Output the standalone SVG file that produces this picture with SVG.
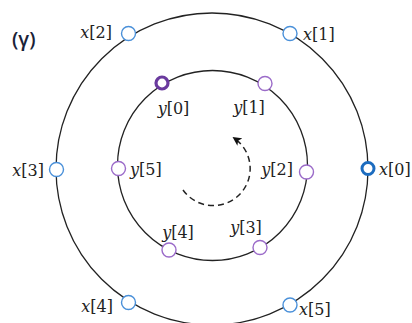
<svg xmlns="http://www.w3.org/2000/svg" width="412" height="323" viewBox="0 0 412 323">
<style>
.ring{fill:none;stroke:#222;stroke-width:1.3}
.xn{fill:#fff;stroke:#4a90d9;stroke-width:1.4}
.xs{fill:#fff;stroke:#1c6cbf;stroke-width:3}
.yn{fill:#fff;stroke:#9b6bc9;stroke-width:1.4}
.ys{fill:#fff;stroke:#6a3a9e;stroke-width:3.2}
.lb{font-family:"DejaVu Serif",serif;font-size:16px;fill:#222}
.it{font-style:italic}
.title{font-family:"Open Sans","Liberation Sans",sans-serif;font-size:20px;font-weight:600;fill:#1a2238}
.dash{fill:none;stroke:#222;stroke-width:1.5;stroke-dasharray:6 4}
</style>
<defs>
<marker id="ah" viewBox="0 0 10 10" refX="8" refY="5" markerWidth="9" markerHeight="9" markerUnits="userSpaceOnUse" orient="auto">
<path d="M0,0 L10,5 L0,10 L2.5,5 Z" fill="#111"/>
</marker>
</defs>
<text class="title" x="12" y="46">(γ)</text>
<g id="connectors">
<circle class="ring" cx="212" cy="169" r="156"/>
<circle class="ring" cx="212.5" cy="165.5" r="95"/>
<path class="dash" d="M183,190 A37,37 0 1 0 234,138" marker-end="url(#ah)"/>
</g>
<g id="x0"><circle class="xs" cx="368" cy="168.5" r="6"/><text class="lb" x="379" y="175"><tspan class="it">x</tspan>[0]</text></g>
<g id="x1"><circle class="xn" cx="290" cy="33.5" r="7"/><text class="lb" x="303" y="40"><tspan class="it">x</tspan>[1]</text></g>
<g id="x2"><circle class="xn" cx="128.5" cy="33.5" r="7"/><text class="lb" x="112" y="38" text-anchor="end"><tspan class="it">x</tspan>[2]</text></g>
<g id="x3"><circle class="xn" cx="56.5" cy="169.5" r="7"/><text class="lb" x="44" y="176" text-anchor="end"><tspan class="it">x</tspan>[3]</text></g>
<g id="x4"><circle class="xn" cx="128.5" cy="302.5" r="7"/><text class="lb" x="113" y="312" text-anchor="end"><tspan class="it">x</tspan>[4]</text></g>
<g id="x5"><circle class="xn" cx="290" cy="305" r="7"/><text class="lb" x="299" y="315"><tspan class="it">x</tspan>[5]</text></g>
<g id="y0"><circle class="ys" cx="162" cy="83" r="6"/><text class="lb" x="173.5" y="113.5" text-anchor="middle"><tspan class="it">y</tspan>[0]</text></g>
<g id="y1"><circle class="yn" cx="265" cy="83.5" r="7"/><text class="lb" x="249" y="113" text-anchor="middle"><tspan class="it">y</tspan>[1]</text></g>
<g id="y2"><circle class="yn" cx="306.5" cy="172" r="7"/><text class="lb" x="293" y="175" text-anchor="end"><tspan class="it">y</tspan>[2]</text></g>
<g id="y3"><circle class="yn" cx="260" cy="247.5" r="7"/><text class="lb" x="246" y="233" text-anchor="middle"><tspan class="it">y</tspan>[3]</text></g>
<g id="y4"><circle class="yn" cx="169" cy="250" r="7"/><text class="lb" x="178" y="237.5" text-anchor="middle"><tspan class="it">y</tspan>[4]</text></g>
<g id="y5"><circle class="yn" cx="118.5" cy="168.5" r="7"/><text class="lb" x="130" y="175"><tspan class="it">y</tspan>[5]</text></g>
</svg>
